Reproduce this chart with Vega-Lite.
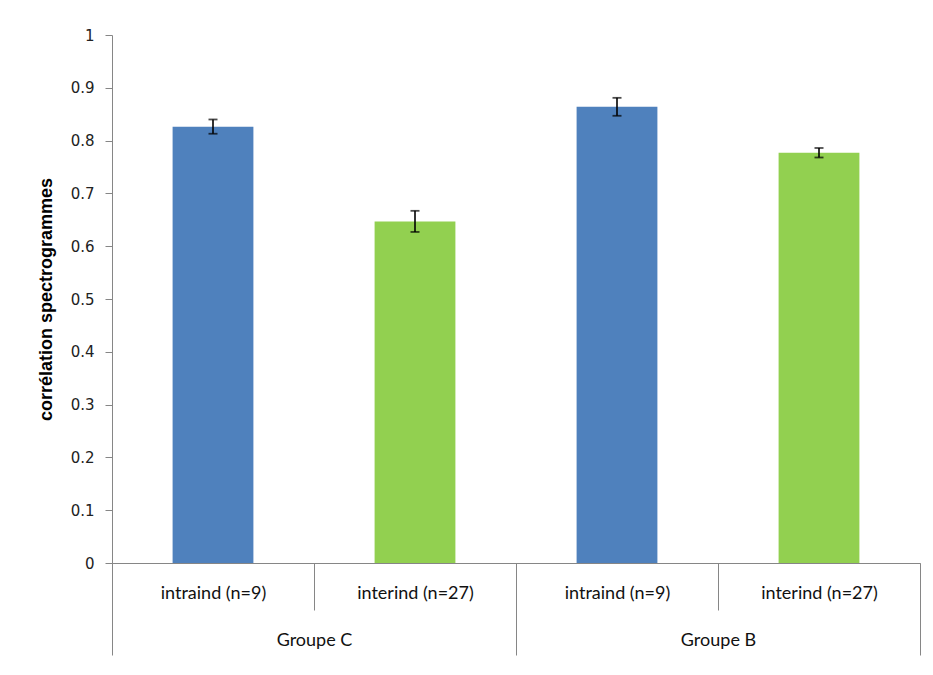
{
  "$schema": "https://vega.github.io/schema/vega-lite/v6.json",
  "width": 808,
  "height": 528,
  "autosize": "none",
  "padding": {"left": 112, "top": 35, "right": 13, "bottom": 112},
  "background": "white",
  "config": {"view": {"stroke": null}},
  "data": {
    "values": [
      {"cat": "C|intraind (n=9)", "group": "Groupe C", "type": "intra", "value": 0.826, "lo": 0.813, "hi": 0.840},
      {"cat": "C|interind (n=27)", "group": "Groupe C", "type": "inter", "value": 0.647, "lo": 0.627, "hi": 0.667},
      {"cat": "B|intraind (n=9)", "group": "Groupe B", "type": "intra", "value": 0.864, "lo": 0.847, "hi": 0.881},
      {"cat": "B|interind (n=27)", "group": "Groupe B", "type": "inter", "value": 0.777, "lo": 0.768, "hi": 0.786}
    ]
  },
  "layer": [
    {
      "encoding": {
        "x": {
          "field": "cat", "type": "nominal", "sort": null,
          "scale": {"paddingInner": 0, "paddingOuter": 0},
          "axis": {
            "title": null, "orient": "bottom",
            "labelExpr": "split(datum.label,'|')[1]",
            "tickBand": "extent", "tickSize": 47, "tickColor": "#868686", "tickWidth": 1,
            "domainColor": "#868686", "domainWidth": 1,
            "labelPadding": -17, "labelBaseline": "middle", "labelAngle": 0,
            "labelFont": "Lato", "labelFontSize": 18, "labelColor": "#111",
            "labelOverlap": false, "labelLimit": 0
          }
        }
      },
      "layer": [
        {
          "mark": {"type": "bar", "width": {"band": 0.4}},
          "encoding": {
            "y": {
              "field": "value", "type": "quantitative",
              "scale": {"domain": [0, 1], "nice": false},
              "axis": {
                "title": "corrélation spectrogrammes",
                "values": [0, 0.1, 0.2, 0.3, 0.4, 0.5, 0.6, 0.7, 0.8, 0.9, 1],
                "format": "~g", "grid": false,
                "domainColor": "#868686", "tickColor": "#868686", "tickSize": 7,
                "labelFont": "DejaVu Sans", "labelFontSize": 15, "labelColor": "#222", "labelPadding": 11,
                "titleFont": "Liberation Sans", "titleFontSize": 18, "titleFontWeight": "bold",
                "titleColor": "#000", "titlePadding": 15
              }
            },
            "color": {
              "field": "type", "type": "nominal",
              "scale": {"domain": ["intra", "inter"], "range": ["#4F81BD", "#92D050"]},
              "legend": null
            }
          }
        },
        {
          "mark": {"type": "rule", "color": "#000", "strokeWidth": 1.6},
          "encoding": {
            "y": {"field": "lo", "type": "quantitative"},
            "y2": {"field": "hi"}
          }
        },
        {
          "mark": {"type": "tick", "color": "#000", "size": 9, "thickness": 1.8},
          "encoding": {"y": {"field": "lo", "type": "quantitative"}}
        },
        {
          "mark": {"type": "tick", "color": "#000", "size": 9, "thickness": 1.8},
          "encoding": {"y": {"field": "hi", "type": "quantitative"}}
        }
      ]
    },
    {
      "mark": {"type": "point", "opacity": 0},
      "encoding": {
        "x": {
          "field": "group", "type": "nominal", "sort": null,
          "scale": {"paddingInner": 0, "paddingOuter": 0},
          "axis": {
            "title": null, "orient": "bottom",
            "tickBand": "extent", "tickSize": 92, "tickColor": "#868686", "tickWidth": 1,
            "domain": false,
            "labelPadding": -15, "labelBaseline": "middle", "labelAngle": 0,
            "labelFont": "Lato", "labelFontSize": 18, "labelColor": "#111",
            "labelOverlap": false, "labelLimit": 0
          }
        },
        "y": {"field": "value", "type": "quantitative"}
      }
    }
  ],
  "resolve": {"scale": {"x": "independent"}, "axis": {"x": "independent"}}
}
